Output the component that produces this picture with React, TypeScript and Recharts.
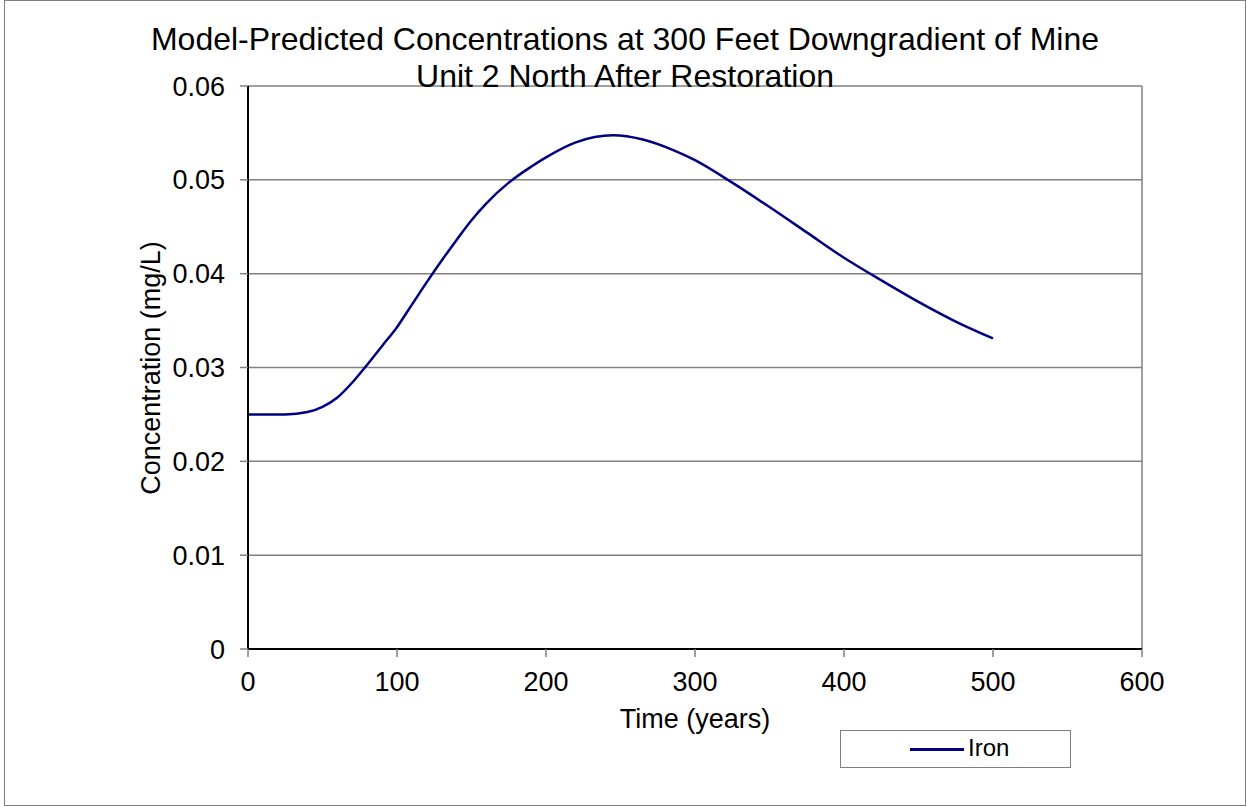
import { CartesianGrid, Line, LineChart, ReferenceLine, XAxis, YAxis } from 'recharts';

const years = [
  0, 25, 40, 50, 60, 70, 80, 90, 100, 110, 120, 130, 140, 150, 160, 175, 190, 200, 220, 245, 265, 285, 300, 325, 350,
  375, 400, 425, 450, 475, 500,
];
const iron = [
  0.025, 0.025, 0.02525, 0.0258, 0.0268, 0.0284, 0.0303, 0.0323, 0.0343, 0.0367, 0.0391, 0.0414, 0.0436, 0.0457,
  0.0475, 0.0497, 0.0514, 0.0524, 0.054, 0.05475, 0.0543, 0.0532, 0.0521, 0.0497, 0.0471, 0.0444, 0.0417, 0.0393,
  0.037, 0.0349, 0.0331,
];
const xTicks = [0, 100, 200, 300, 400, 500, 600];
const yTicks = [0, 0.01, 0.02, 0.03, 0.04, 0.05, 0.06];

const titleLines = ['Model-Predicted Concentrations at 300 Feet Downgradient of Mine', 'Unit 2 North After Restoration'];

const FONT = '"Liberation Sans", Arial, sans-serif';

const data = years.map((t, i) => ({ t, iron: iron[i] }));

function IronLegend() {
  return (
    <div
      style={{
        position: 'absolute',
        left: 840,
        top: 730,
        width: 231,
        height: 38,
        border: '1px solid #808080',
        boxSizing: 'border-box',
        background: '#fff',
      }}
    >
      <div style={{ position: 'absolute', left: 69, top: 17, width: 54, height: 3, background: '#000080' }} />
      <div style={{ position: 'absolute', left: 127, top: 5, fontSize: 24, lineHeight: '24px', color: '#000' }}>Iron</div>
    </div>
  );
}

export default function App() {
  return (
    <div style={{ position: 'absolute', left: 0, top: 0, width: 1247, height: 807, background: '#fff', fontFamily: FONT }}>
      <div
        style={{
          position: 'absolute',
          left: 4,
          top: 0,
          width: 1242,
          height: 806,
          border: '1px solid #808080',
          boxSizing: 'border-box',
        }}
      />
      <LineChart
        width={1247}
        height={807}
        data={data}
        margin={{ top: 86, right: 105, left: 168, bottom: 98 }}
        style={{ position: 'absolute', left: 0, top: 0 }}
      >
        <CartesianGrid horizontal vertical={false} stroke="#808080" strokeWidth={1.5} />
        <ReferenceLine x={600} stroke="#808080" strokeWidth={1.5} />
        <XAxis
          dataKey="t"
          type="number"
          domain={[0, 600]}
          ticks={xTicks}
          height={60}
          axisLine={{ stroke: '#000', strokeWidth: 2 }}
          tickLine={{ stroke: '#808080', strokeWidth: 1.5 }}
          tickSize={8}
          tickMargin={15}
          tick={{ fill: '#000', fontSize: 27, fontFamily: FONT }}
        />
        <YAxis
          type="number"
          domain={[0, 0.06]}
          ticks={yTicks}
          width={80}
          axisLine={{ stroke: '#000', strokeWidth: 2 }}
          tickLine={{ stroke: '#808080', strokeWidth: 1.5 }}
          tickSize={8}
          tickMargin={15}
          tickFormatter={(v: number) => (v === 0 ? '0' : v.toFixed(2))}
          tick={{ fill: '#000', fontSize: 27, fontFamily: FONT }}
        />
        <Line
          type="monotone"
          dataKey="iron"
          name="Iron"
          stroke="#000080"
          strokeWidth={2.5}
          dot={false}
          activeDot={false}
          isAnimationActive={false}
        />
      </LineChart>
      <IronLegend />
      {titleLines.map((line, i) => (
        <div
          key={line}
          style={{
            position: 'absolute',
            left: 0,
            width: 1250,
            top: 22.9 + i * 36.7,
            textAlign: 'center',
            fontSize: 32,
            lineHeight: '32px',
            color: '#000',
            whiteSpace: 'nowrap',
          }}
        >
          {line}
        </div>
      ))}
      <div
        style={{
          position: 'absolute',
          left: 595,
          width: 200,
          top: 706.3,
          textAlign: 'center',
          fontSize: 27,
          lineHeight: '27px',
          color: '#000',
        }}
      >
        Time (years)
      </div>
      <div
        style={{
          position: 'absolute',
          left: 151 - 150,
          top: 368 - 14,
          width: 300,
          textAlign: 'center',
          fontSize: 27,
          lineHeight: '28px',
          color: '#000',
          transform: 'rotate(-90deg)',
          transformOrigin: '150px 14px',
          whiteSpace: 'nowrap',
        }}
      >
        Concentration (mg/L)
      </div>
    </div>
  );
}
